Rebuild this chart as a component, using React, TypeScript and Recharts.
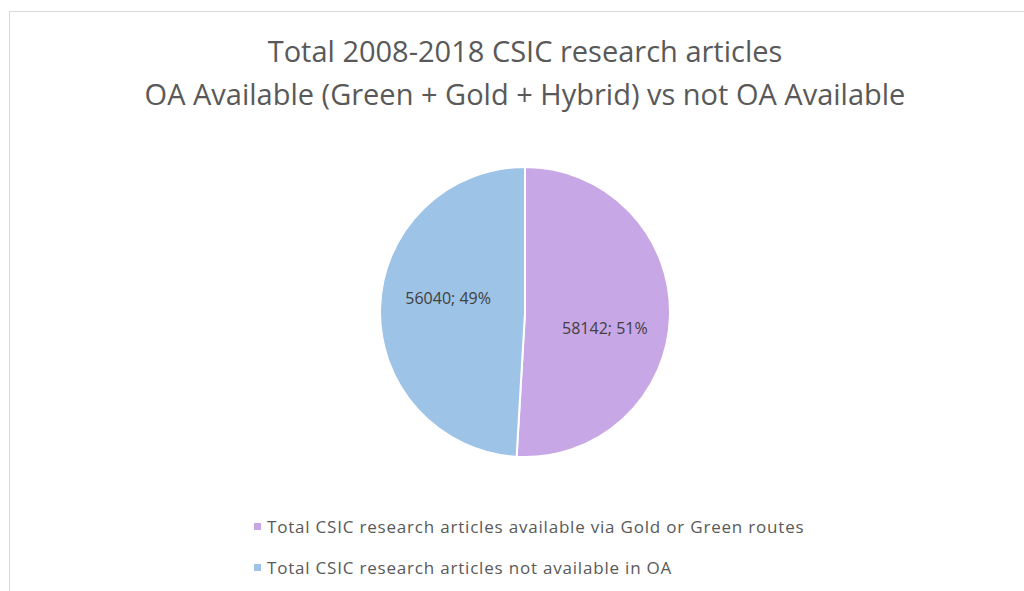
import { PieChart, Pie, Cell, Legend } from 'recharts';

const categories = [
    'Total CSIC research articles available via Gold or Green routes',
    'Total CSIC research articles not available in OA',
];
const values = [58142, 56040];
const percentLabels = ['51%', '49%'];
const colors = ['#c8a7e6', '#9dc3e6'];

const titleLines = [
    'Total 2008-2018 CSIC research articles',
    'OA Available (Green + Gold + Hybrid) vs not OA Available',
];

const data = categories.map((name, i) => ({
    name,
    value: values[i],
    pct: percentLabels[i],
    fill: colors[i],
}));

const FONT = '"Open Sans", "Noto Sans", sans-serif';
const RAD = Math.PI / 180;

// small nudges so labels sit where Excel's "best fit" put them
const labelNudge = [
    { dx: -10, dy: 13 },
    { dx: 13, dy: -11 },
];

const renderLabel = (props: any) => {
    const { cx, cy, midAngle, outerRadius, index } = props;
    const r = outerRadius * 0.62;
    const x = cx + r * Math.cos(-midAngle * RAD) + labelNudge[index].dx;
    const y = cy + r * Math.sin(-midAngle * RAD) + labelNudge[index].dy;
    return (
        <text
            x={x}
            y={y}
            fill="#404040"
            fontSize={16}
            fontFamily={FONT}
            textAnchor="middle"
            dominantBaseline="central">
            {`${values[index]}; ${percentLabels[index]}`}
        </text>
    );
};

const renderLegend = () => (
    <div style={{ fontFamily: FONT, fontSize: 17, letterSpacing: 0.8, color: '#595959' }}>
        {data.map((d) => (
            <div key={d.name} style={{ display: 'flex', alignItems: 'center', height: 41 }}>
                <span
                    style={{
                        display: 'inline-block',
                        width: 7,
                        height: 7,
                        background: d.fill,
                        marginRight: 6,
                    }}
                />
                {d.name}
            </div>
        ))}
    </div>
);

const App = () => {
    return (
        <div style={{ position: 'absolute', left: 0, top: 0, width: 1024, height: 591, background: '#fff', overflow: 'hidden' }}>
            {/* chart frame */}
            <div
                style={{
                    position: 'absolute',
                    left: 9,
                    top: 11,
                    width: 1030,
                    height: 600,
                    borderTop: '1px solid #d9d9d9',
                    borderLeft: '1px solid #d9d9d9',
                }}
            />

            {/* title */}
            <div
                style={{
                    position: 'absolute',
                    left: 0,
                    top: 29,
                    width: 1050,
                    textAlign: 'center',
                    fontFamily: FONT,
                    fontSize: 29,
                    lineHeight: '43px',
                    color: '#595959',
                }}>
                {titleLines.map((t) => (
                    <div key={t}>{t}</div>
                ))}
            </div>

            <div style={{ position: 'absolute', left: 0, top: 0 }}>
                <PieChart width={1024} height={591} margin={{ top: 0, right: 0, bottom: 0, left: 0 }}>
                    <Pie
                        data={data}
                        dataKey="value"
                        nameKey="name"
                        cx={525}
                        cy={312}
                        outerRadius={145}
                        startAngle={90}
                        endAngle={-270}
                        stroke="#ffffff"
                        strokeWidth={2}
                        label={renderLabel}
                        labelLine={false}
                        isAnimationActive={false}>
                        {data.map((d) => (
                            <Cell key={d.name} fill={d.fill} />
                        ))}
                    </Pie>
                    <Legend
                        content={renderLegend}
                        layout="vertical"
                        wrapperStyle={{ position: 'absolute', left: 254, top: 506, width: 760 }}
                    />
                </PieChart>
            </div>
        </div>
    );
};

export default App;
